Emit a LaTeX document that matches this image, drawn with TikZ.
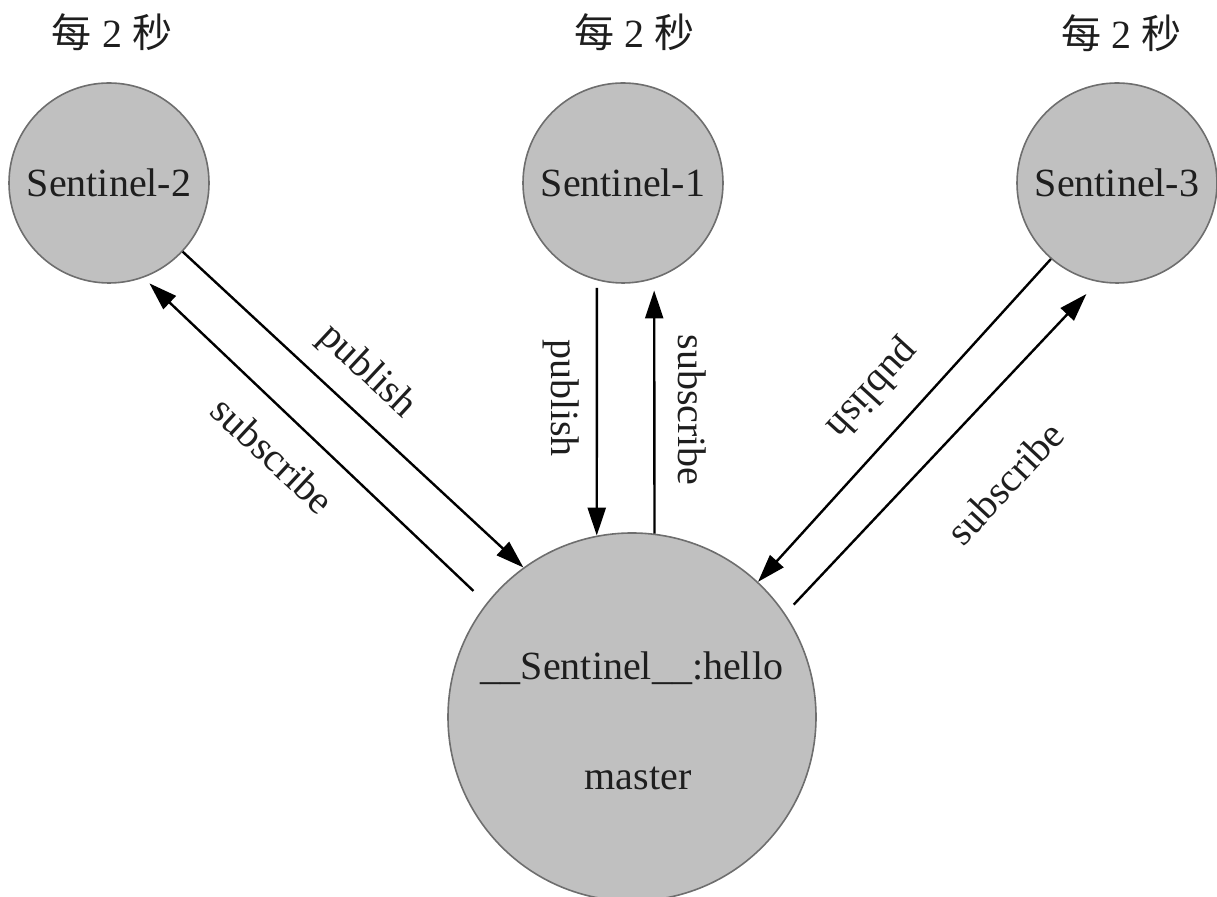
\documentclass[tikz,border=0pt]{standalone}
\usepackage{fontspec}
\setmainfont{Liberation Serif}
\newfontfamily\cjk{Noto Sans CJK SC}
\usetikzlibrary{arrows.meta}
\definecolor{nodefill}{RGB}{192,192,192}
\definecolor{nodeedge}{RGB}{110,110,110}
\definecolor{ink}{RGB}{30,30,30}
\begin{document}
\begin{tikzpicture}[x=0.5pt,y=-0.5pt,
  sent/.style={circle,draw=nodeedge,fill=nodefill,line width=0.8pt,inner sep=0pt,
    minimum size=100pt,font=\fontsize{20}{24}\selectfont,text=ink},
  mast/.style={sent,minimum size=184pt},
  flow/.style={line width=1.2pt,-{Triangle[length=14pt,width=9pt]}},
  lbl/.style={font=\fontsize{20}{24}\selectfont,text=ink,inner sep=0pt},
  cjklbl/.style={font=\fontsize{20}{24}\selectfont,text=ink,inner sep=0pt}]
\useasboundingbox (0,0) rectangle (1217,897);
% nodes
\node[sent] (s2) at (109,183) {Sentinel-2};
\node[sent] (s1) at (623,183) {Sentinel-1};
\node[sent] (s3) at (1117,183) {Sentinel-3};
\node[mast] (m) at (632,717) {};
\node[lbl,anchor=base] (topic) at (632,680) {\_\_Sentinel\_\_:hello};
\node[lbl,anchor=base] (mname) at (638,790) {master};
% timing labels
\node[cjklbl] (t2) at (112,32) {{\cjk 每}\hspace{5pt}2\hspace{5pt}{\cjk 秒}};
\node[cjklbl] (t1) at (634,32) {{\cjk 每}\hspace{5pt}2\hspace{5pt}{\cjk 秒}};
\node[cjklbl] (t3) at (1121,33) {{\cjk 每}\hspace{5pt}2\hspace{5pt}{\cjk 秒}};
% connectors
\draw[flow] (s2.-43.4) -- (m.126.8);
\draw[flow,shorten <=8.9pt,shorten >=4.1pt] (m.142.6) -- (s2.-70.7);
\draw[flow,shorten <=3.7pt] (s1.-105.1) -- (m.101);
\draw[flow,shorten >=5.8pt] (m.83.45) -- (s1.-72.5);
\draw[flow] (s3.-131.9) -- (m.47.6);
\draw[flow,shorten <=6.2pt,shorten >=8.3pt] (m.34) -- (s3.-101.9);
% connector labels
\node[lbl,rotate=-43] (p2) at (367,372) {publish};
\node[lbl,rotate=-43] (u2) at (273,455) {subscribe};
\node[lbl,rotate=-90] (p1) at (561,398) {publish};
\node[lbl,rotate=-90] (u1) at (692,410) {subscribe};
\node[lbl,rotate=-132.4] (p3) at (872,388) {publish};
\node[lbl,rotate=47] (u3) at (1005,483) {subscribe};
\end{tikzpicture}
\end{document}
